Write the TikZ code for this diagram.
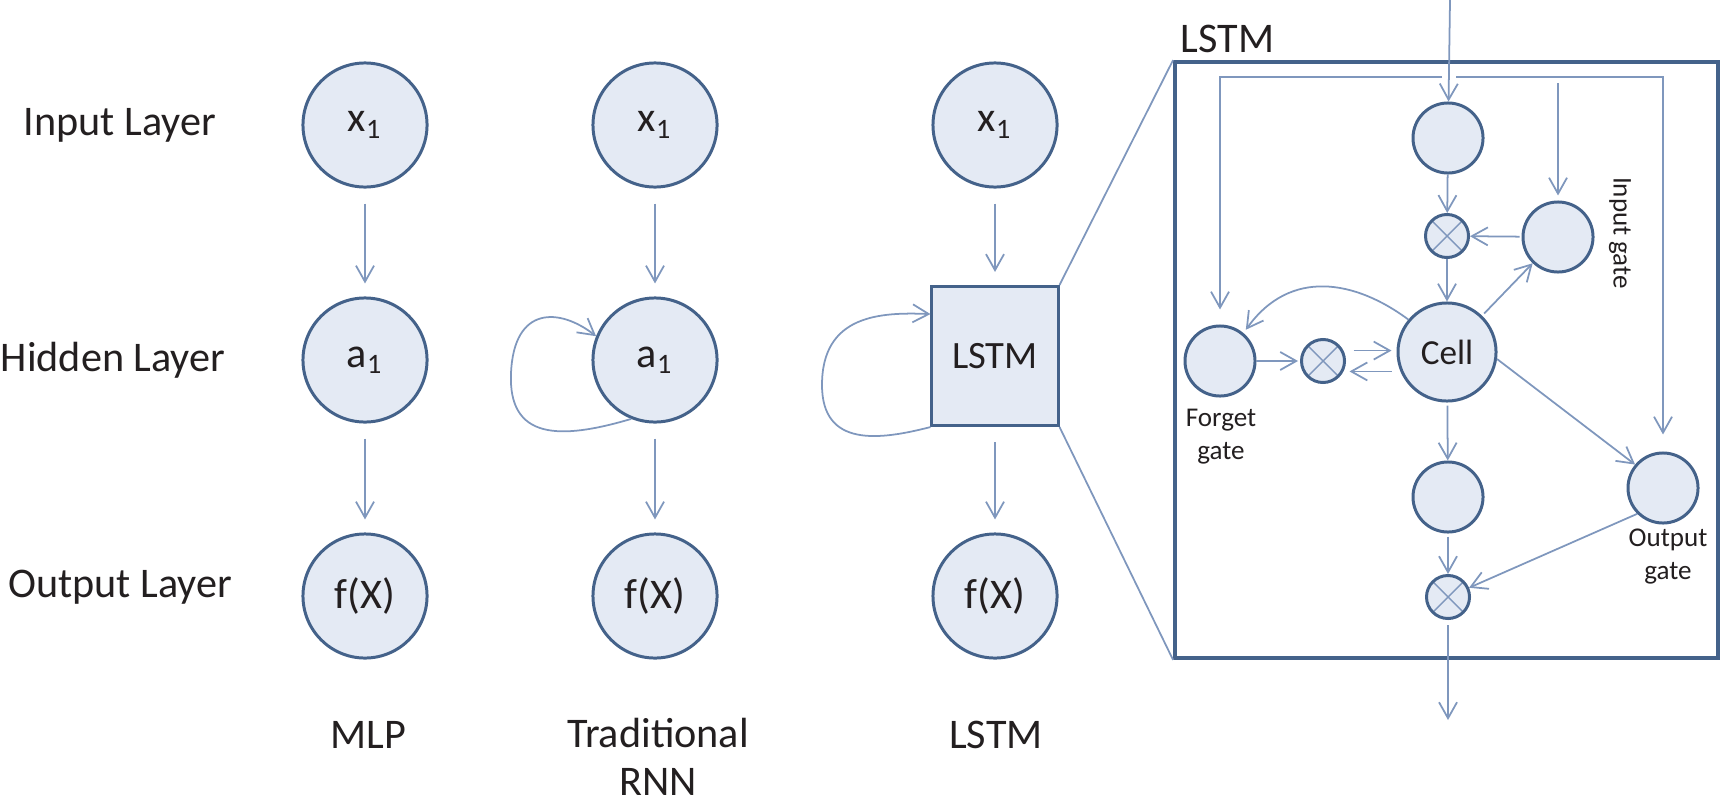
\documentclass[tikz,border=0pt]{standalone}
\usepackage{fontspec}
\setmainfont{Carlito}
\usepackage{tikz}
\usetikzlibrary{arrows.meta}

\definecolor{nodeline}{HTML}{44628A}
\definecolor{nodefill}{HTML}{E4EAF4}
\definecolor{arrline}{HTML}{7F97BD}
\definecolor{txt}{HTML}{231F20}

\tikzset{
	neuron/.style={circle,draw=nodeline,fill=nodefill,line width=0.85pt,minimum size=1.24cm,inner sep=0pt,text=txt,font=\fontsize{12}{14}\selectfont},
	gate/.style={circle,draw=nodeline,fill=nodefill,line width=0.85pt,minimum size=0.7cm,inner sep=0pt},
	mul/.style={circle,draw=nodeline,fill=nodefill,line width=0.85pt,minimum size=0.43cm,inner sep=0pt,
		path picture={\draw[arrline,line width=0.4pt] (path picture bounding box.north west) -- (path picture bounding box.south east) (path picture bounding box.north east) -- (path picture bounding box.south west);}},
	arr/.style={draw=arrline,line width=0.5pt,-{Straight Barb[length=1.6mm,width=1.8mm]}},
	gap/.style={shorten <=0.15cm,shorten >=0.13cm},
	layertext/.style={text=txt,font=\fontsize{12}{14}\selectfont},
	gatetext/.style={text=txt,font=\fontsize{7.7}{9.4}\selectfont,align=center}
}

\begin{document}
\begin{tikzpicture}[x=0.01cm,y=-0.01cm]
		\useasboundingbox (0,0) rectangle (1725,803);
%		\draw[help lines] (0,0) grid[step=100] (1725,803);
		\path (1450,0) coordinate (x_top);
		\path (1442,77) coordinate (gap_l);
		\path (1456,77) coordinate (gap_r);
		\path (1448,720) coordinate (h_out);

		\draw (120,125) node[layertext] {Input Layer};
		\draw (113,360) node[layertext] {Hidden Layer};
		\draw (120,587) node[layertext] {Output Layer};

		\node[neuron] (mlp_in) at (365,125) {x\textsubscript{1}};
		\node[neuron] (mlp_hid) at (365,360) {a\textsubscript{1}};
		\node[neuron] (mlp_out) at (365,596) {f(X)};
		\node[layertext] (mlp_lbl) at (368,735) {MLP};
		\draw[arr,gap] (mlp_in) -- (mlp_hid);
		\draw[arr,gap] (mlp_hid) -- (mlp_out);

		\node[neuron] (rnn_in) at (655,125) {x\textsubscript{1}};
		\node[neuron] (rnn_hid) at (655,360) {a\textsubscript{1}};
		\node[neuron] (rnn_out) at (655,596) {f(X)};
		\node[layertext,font=\fontsize{12}{13.5}\selectfont,align=center,inner sep=0pt] (rnn_lbl) at (658,757) {Traditional\\RNN};
		\draw[arr,gap] (rnn_in) -- (rnn_hid);
		\draw[arr,gap] (rnn_hid) -- (rnn_out);
		\draw[arr] (rnn_hid.-112) .. controls (560,440) and (508,440) .. (511,373)
			.. controls (514,305) and (560,308) .. (rnn_hid.158);

		\node[neuron] (lstm_in) at (995,125) {x\textsubscript{1}};
		\node[rectangle,draw=nodeline,fill=nodefill,line width=0.85pt,minimum width=1.26cm,minimum height=1.39cm,text=txt,font=\fontsize{11}{13}\selectfont] (lstm_hid) at (995,356) {LSTM};
		\node[neuron] (lstm_out) at (995,596) {f(X)};
		\node[layertext] (lstm_lbl) at (996,735) {LSTM};
		\draw[arr,gap] (lstm_in) -- (lstm_hid);
		\draw[arr,gap] (lstm_hid) -- (lstm_out);
		\draw[arr] (lstm_hid.south west) .. controls (880,440) and (822,448) .. (822,385)
			.. controls (822,315) and (880,312) .. (lstm_hid.147);

		\node[rectangle,draw=nodeline,line width=1pt,minimum width=5.43cm,minimum height=5.96cm,inner sep=0pt] (zoom_box) at (1446.5,360) {};
		\node[layertext,anchor=south west,inner sep=0.07cm] (zoom_lbl) at (zoom_box.north west) {LSTM};
		\draw[arrline,line width=0.5pt] (lstm_hid.north east) -- (zoom_box.north west);
		\draw[arrline,line width=0.5pt] (lstm_hid.south east) -- (zoom_box.south west);

		\node[gate] (in_sq) at (1448,138) {};
		\node[mul] (in_mul) at (1447,236) {};
		\node[gate] (in_gate) at (1558,237) {};
		\node[gate,minimum size=0.98cm,text=txt,font=\fontsize{10}{12}\selectfont] (cell) at (1447,352) {Cell};
		\node[gate] (forget_gate) at (1220,361) {};
		\node[mul] (forget_mul) at (1323,361) {};
		\node[gate] (out_sq) at (1448,497) {};
		\node[gate] (out_gate) at (1663,488) {};
		\node[mul] (out_mul) at (1448,597) {};

		\node[gatetext] (forget_lbl) at (1221,437) {Forget\\gate};
		\node[gatetext,rotate=-90] (in_lbl) at (1620,233) {Input gate};
		\node[gatetext] (out_lbl) at (1668,557) {Output\\gate};

		\draw[arr] (x_top) -- (in_sq);
		\draw[arr,shorten >=0.15cm] (gap_l) -- (forget_gate.north |- gap_l) -- (forget_gate.north);
		\draw[arr,shorten >=0.17cm] (gap_r) -- (out_gate.north |- gap_r) -- (out_gate.north);
		\draw[arr,shorten <=0.06cm,shorten >=0.05cm] (in_gate.north |- gap_r) -- (in_gate.north);

		\draw[arr] (in_sq) -- (in_mul);
		\draw[arr,shorten <=0.02cm] (in_gate) -- (in_mul);
		\draw[arr] (in_mul) -- (cell);
		\draw[arr,shorten <=0.03cm] (cell) -- (in_gate);
		\draw[arr,shorten >=0.02cm] (forget_gate) -- (forget_mul);
		\draw[arr,shorten <=0.1cm,shorten >=0.05cm] (forget_mul.27) -- (forget_mul.27 -| cell.west);
		\draw[arr,shorten <=0.05cm,shorten >=0.06cm] (forget_mul.-27 -| cell.west) -- (forget_mul.-27);
		\draw[arr,shorten >=0.04cm] (cell.140) .. controls (1355,280) and (1290,268) .. (forget_gate.50);
		\draw[arr,shorten <=0.03cm] (cell) -- (out_sq);
		\draw[arr,shorten <=0.03cm] (out_sq) -- (out_mul);
		\draw[arr] (cell.-8) -- (out_gate.140);
		\draw[arr] (out_gate.225) -- (out_mul);
		\draw[arr,shorten <=0.05cm] (out_mul) -- (h_out);
	\end{tikzpicture}
\end{document}
